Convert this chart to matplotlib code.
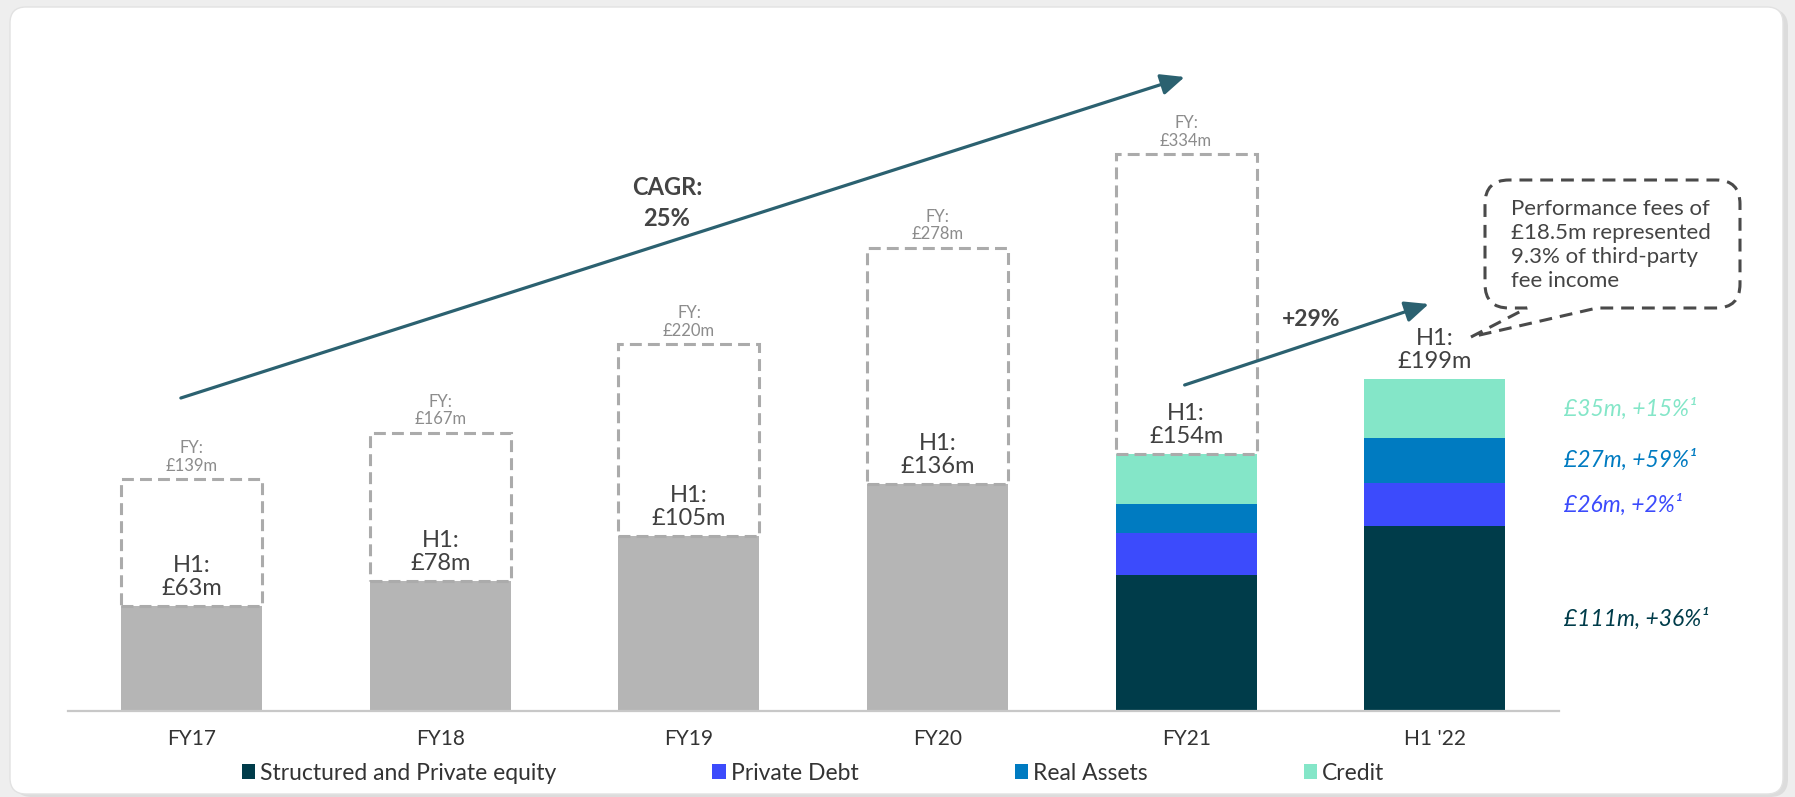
import matplotlib
matplotlib.use("Agg")
import matplotlib.pyplot as plt
from matplotlib.patches import FancyBboxPatch, Patch, PathPatch
from matplotlib.path import Path
from matplotlib.transforms import IdentityTransform

# ---- data -------------------------------------------------------------
categories = ["FY17", "FY18", "FY19", "FY20", "FY21", "H1 '22"]
h1_income = [63, 78, 105, 136, 154, 199]
fy_income = [139, 167, 220, 278, 334]
segment_names = ["Structured and Private equity", "Private Debt", "Real Assets", "Credit"]
segment_colors = ["#003c4a", "#3c4bfc", "#007bc1", "#84e6c8"]
fy21_h1_segments = [81.6, 25.5, 17.0, 29.9]
h1_22_segments = [111, 26, 27, 35]
segment_growth = ["+36%", "+2%", "+59%", "+15%"]
cagr_label = "CAGR:\n25%"
h1_growth_label = "+29%"
callout_text = "Performance fees of\n£18.5m represented\n9.3% of third-party\nfee income"

# ---- figure -------------------------------------------------------------
plt.rcParams["font.family"] = ["Lato", "DejaVu Sans"]
W, H, DPI = 1795, 797, 100
fig = plt.figure(figsize=(W / DPI, H / DPI), dpi=DPI)
fig.patch.set_facecolor("#eeeeee")
ident = IdentityTransform()

# card with soft shadow
shadow = FancyBboxPatch((14, 0), 1774, 788, boxstyle="round,pad=0,rounding_size=18",
                        transform=ident, facecolor="#dcdcdc", edgecolor="none", zorder=0)
card = FancyBboxPatch((10, 3), 1773, 787, boxstyle="round,pad=0,rounding_size=16",
                      transform=ident, facecolor="white", edgecolor="#e2e2e2", lw=1, zorder=0)
fig.add_artist(shadow)
fig.add_artist(card)

ax = fig.add_axes([67.5 / W, (H - 711) / H, (1559 - 67.5) / W, 700 / H])
ax.patch.set_visible(False)
ax.set_xlim(-0.5, 5.5)
ax.set_ylim(0, 420)

bar_w = 0.567
gray = "#b5b5b5"
n_hist = 4
x_all = list(range(len(categories)))

# historical H1 bars
ax.bar(x_all[:n_hist], h1_income[:n_hist], width=bar_w, color=gray, zorder=2)

# stacked segment bars for FY21 and H1 '22
for xi, segs in zip(x_all[4:], [fy21_h1_segments, h1_22_segments]):
    bottom = 0
    for val, col in zip(segs, segment_colors):
        ax.bar(xi, val, bottom=bottom, width=bar_w, color=col, zorder=2)
        bottom += val

# dashed full-year outlines
fy_heights = [fy - h1 for fy, h1 in zip(fy_income, h1_income)]
ax.bar(x_all[:len(fy_income)], fy_heights, bottom=h1_income[:len(fy_income)], width=bar_w,
       fill=False, edgecolor="#ababab", linewidth=2.2, linestyle=(0, (3.9, 2.0)), zorder=3)

for xi, v in zip(x_all, fy_income):
    ax.annotate(f"FY:\n£{v}m", (xi, v), xytext=(0, 4), textcoords="offset points",
                ha="center", va="bottom", fontsize=12, color="#8c8c8c", linespacing=1.1)

for xi, v in zip(x_all, h1_income):
    ax.annotate(f"H1:\n£{v}m", (xi, v), xytext=(0, 5), textcoords="offset points",
                ha="center", va="bottom", fontsize=17, color="#404040", linespacing=1.15,
                zorder=4)

# segment labels to the right of the latest bar
bottom = 0
for val, g, col in zip(h1_22_segments, segment_growth, segment_colors):
    mid = bottom + val / 2
    ax.text(5.52, mid, f"£{val}m, {g}¹", ha="left", va="center", fontsize=16.5,
            style="italic", color=col, clip_on=False)
    bottom += val

# growth arrows
arrow_col = "#2b6170"
aprops = dict(arrowstyle="-|>,head_length=0.9,head_width=0.4", mutation_scale=16,
              lw=2.3, color=arrow_col, shrinkA=0, shrinkB=0)
ax.annotate("", xy=(3.994, 380.4), xytext=(-0.044, 187.8), arrowprops=aprops, zorder=5)
ax.annotate("", xy=(4.976, 244.2), xytext=(3.994, 195.6), arrowprops=aprops, zorder=5)
ax.text(1.911, 304.8, cagr_label, ha="center", va="center", fontsize=17,
        fontweight="bold", color="#444444", linespacing=1.4)
ax.text(4.501, 234.6, h1_growth_label, ha="center", va="center", fontsize=16.5,
        fontweight="bold", color="#444444")

# axis styling
ax.set_xticks(x_all)
ax.set_xticklabels(categories)
ax.tick_params(axis="x", length=0, pad=13, labelsize=15, labelcolor="#333333")
ax.set_yticks([])
for side in ["left", "right", "top"]:
    ax.spines[side].set_visible(False)
ax.spines["bottom"].set_color("#c8c8c8")
ax.spines["bottom"].set_linewidth(1.6)

# callout bubble with tail (pixel coordinates, top-origin converted)
L, R, T, B, r = 1485, 1740, 180, 308, 24
tip = (1471, 337)
pts = [
    (tip, Path.MOVETO),
    ((1527, B), Path.LINETO),
    ((L + r, B), Path.LINETO),
    ((L, B), Path.CURVE3), ((L, B - r), Path.CURVE3),
    ((L, T + r), Path.LINETO),
    ((L, T), Path.CURVE3), ((L + r, T), Path.CURVE3),
    ((R - r, T), Path.LINETO),
    ((R, T), Path.CURVE3), ((R, T + r), Path.CURVE3),
    ((R, B - r), Path.LINETO),
    ((R, B), Path.CURVE3), ((R - r, B), Path.CURVE3),
    ((1597, B), Path.LINETO),
    (tip, Path.LINETO),
]
verts = [(x, H - y) for (x, y), _ in pts]
codes = [c for _, c in pts]
bubble = PathPatch(Path(verts, codes), transform=ident, facecolor="white",
                   edgecolor="#4a4a4a", lw=2.2, linestyle=(0, (4.2, 2.6)), zorder=6)
fig.add_artist(bubble)
fig.text(1511 / W, 1 - 199 / H, callout_text, ha="left", va="top", fontsize=16,
         color="#444444", linespacing=1.25, zorder=7)

# legend
handles = [Patch(facecolor=c, edgecolor="none") for c in segment_colors]
fig.legend(handles, segment_names, loc="center", bbox_to_anchor=(813 / W, 1 - 773 / H),
           ncol=4, frameon=False, handlelength=0.57, handleheight=0.6,
           handletextpad=0.22, columnspacing=6.83, fontsize=16.5, labelcolor="#333333")

fig.savefig("out.png", dpi=DPI, facecolor=fig.get_facecolor())
